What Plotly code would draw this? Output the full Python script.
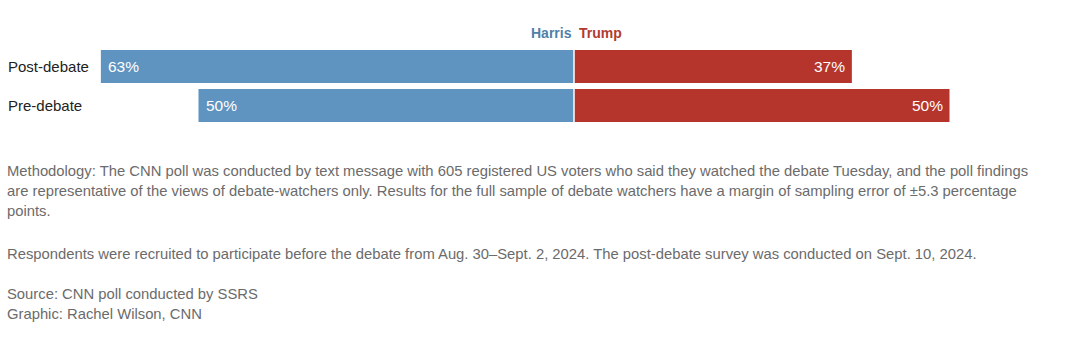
import plotly.graph_objects as go

categories = ["Post-debate", "Pre-debate"]
harris = [63, 50]
trump = [37, 50]

header_harris = "Harris"
header_trump = "Trump"

notes = [
    ("Methodology: The CNN poll was conducted by text message with 605 registered US voters who said they watched the debate Tuesday, and the poll findings", 171),
    ("are representative of the views of debate-watchers only. Results for the full sample of debate watchers have a margin of sampling error of \u00b15.3 percentage", 191),
    ("points.", 211),
    ("Respondents were recruited to participate before the debate from Aug. 30\u2013Sept. 2, 2024. The post-debate survey was conducted on Sept. 10, 2024.", 254),
    ("Source: CNN poll conducted by SSRS", 294),
    ("Graphic: Rachel Wilson, CNN", 314),
]

W, H = 1080, 345
CENTER_PX = 574
PX_PER_UNIT = 7.51
ROW_PX = 39
FIRST_ROW_PX = 66.5

BLUE = "#5f93c0"
RED = "#b5352d"
FONT = "Liberation Sans, Arial, Helvetica, sans-serif"

y_idx = list(range(len(categories)))

fig = go.Figure()
fig.add_trace(go.Bar(
    y=y_idx, x=harris, base=[-v for v in harris], orientation="h",
    marker=dict(color=BLUE, line=dict(width=0)), width=33 / ROW_PX,
    hoverinfo="skip", showlegend=False,
))
fig.add_trace(go.Bar(
    y=y_idx, x=trump, base=[0 for _ in trump], orientation="h",
    marker=dict(color=RED, line=dict(width=0)), width=33 / ROW_PX,
    hoverinfo="skip", showlegend=False,
))

annotations = []
for i, (cat, h, t) in enumerate(zip(categories, harris, trump)):
    annotations.append(dict(x=-h, y=i, xref="x", yref="y", text=f"{h}%", showarrow=False,
                            xanchor="left", yanchor="middle", xshift=5,
                            font=dict(family=FONT, size=15.5, color="white")))
    annotations.append(dict(x=t, y=i, xref="x", yref="y", text=f"{t}%", showarrow=False,
                            xanchor="right", yanchor="middle", xshift=-5,
                            font=dict(family=FONT, size=15.5, color="white")))
    annotations.append(dict(x=0, y=i, xref="paper", yref="y", text=cat, showarrow=False,
                            xanchor="left", yanchor="middle", xshift=6,
                            font=dict(family=FONT, size=15, color="#222222")))

annotations.append(dict(x=0, y=-1, xref="x", yref="y", text=f"<b>{header_harris}</b>", showarrow=False,
                        xanchor="right", yanchor="middle", xshift=0, yshift=-5,
                        font=dict(family=FONT, size=14, color="#4f80a8")))
annotations.append(dict(x=0, y=-1, xref="x", yref="y", text=f"<b>{header_trump}</b>", showarrow=False,
                        xanchor="left", yanchor="middle", xshift=3, yshift=-5,
                        font=dict(family=FONT, size=14, color="#b23b31")))

for txt, ypx in notes:
    annotations.append(dict(x=0, y=1 - ypx / H, xref="paper", yref="paper", text=txt, showarrow=False,
                            xanchor="left", yanchor="middle", xshift=5,
                            font=dict(family=FONT, size=14.8, color="#6b6b6b")))

x_lo = -CENTER_PX / PX_PER_UNIT
x_hi = (W - CENTER_PX) / PX_PER_UNIT
y_top = -FIRST_ROW_PX / ROW_PX
y_bottom = (H - FIRST_ROW_PX) / ROW_PX

fig.update_layout(
    width=W, height=H,
    margin=dict(l=0, r=0, t=0, b=0),
    paper_bgcolor="white", plot_bgcolor="white",
    barmode="overlay",
    xaxis=dict(range=[x_lo, x_hi], visible=False, fixedrange=True),
    yaxis=dict(range=[y_bottom, y_top], visible=False, fixedrange=True),
    annotations=annotations,
    shapes=[dict(type="line", xref="x", yref="paper", x0=0, x1=0, y0=1 - 48 / H, y1=1 - 124 / H,
                 line=dict(color="white", width=1.5))],
    font=dict(family=FONT),
)

fig.write_html("out.html", config={"displayModeBar": False})
